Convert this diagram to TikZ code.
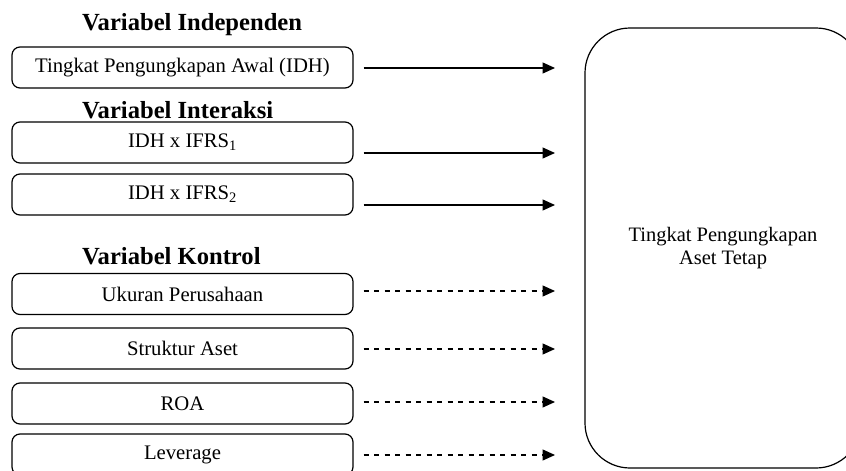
\documentclass[tikz,border=0pt]{standalone}
\usepackage{fontspec}
\setmainfont{Liberation Serif}
\usetikzlibrary{arrows.meta}
\tikzset{
  varbox/.style={draw, line width=1.2pt, rounded corners=8pt,
    minimum width=341pt, minimum height=41pt, inner sep=0pt,
    font=\fontsize{20.7}{23.5}\selectfont},
  heading/.style={anchor=west, inner sep=0pt,
    font=\fontsize{24.6}{28}\selectfont\bfseries},
  target/.style={draw, line width=1.2pt, rounded corners=45pt,
    minimum width=276pt, minimum height=440pt, align=center,
    font=\fontsize{20.5}{23.5}\selectfont},
  tip/.style={-{Triangle[length=12.5pt,width=11pt]}, line width=1.3pt, shorten <=10pt},
  ctrl/.style={tip, dash pattern=on 5pt off 5.5pt}
}
\begin{document}
\begin{tikzpicture}[x=1pt,y=-1pt]
  \clip (0,0) rectangle (846,471);
  \node[heading] (hind) at (82,25) {Variabel Independen};
  \node[heading] (hint) at (82,110) {Variabel Interaksi};
  \node[heading] (hkon) at (82,256) {Variabel Kontrol};
  \node[varbox] (idh) at (182.5,67.5) {Tingkat Pengungkapan Awal (IDH)};
  \node[varbox] (ifrs1) at (182.5,142.5) {IDH x IFRS\textsubscript{1}};
  \node[varbox] (ifrs2) at (182.5,194.5) {IDH x IFRS\textsubscript{2}};
  \node[varbox] (size) at (182.5,294) {Ukuran Perusahaan};
  \node[varbox] (struk) at (182.5,348.5) {Struktur Aset};
  \node[varbox] (roa) at (182.5,403.5) {ROA};
  \node[varbox] (lev) at (182.5,454.5) {Leverage};
  \node[target] (tpat) at (723,248) {Tingkat Pengungkapan\\Aset Tetap};
  % free ends of the arrows
  \coordinate (e1) at (555,68);
  \coordinate (e2) at (555,153);
  \coordinate (e3) at (555,205);
  \coordinate (e4) at (555,291);
  \coordinate (e5) at (555,349);
  \coordinate (e6) at (555,402);
  \coordinate (e7) at (555,455);
  \begin{scope}[tip]
    \draw (idh.east |- e1) -- (e1);
    \draw (ifrs1.east |- e2) -- (e2);
    \draw (ifrs2.east |- e3) -- (e3);
  \end{scope}
  \begin{scope}[ctrl]
    \draw (size.east |- e4) -- (e4);
    \draw (struk.east |- e5) -- (e5);
    \draw (roa.east |- e6) -- (e6);
    \draw (lev.east |- e7) -- (e7);
  \end{scope}
\end{tikzpicture}
\end{document}
